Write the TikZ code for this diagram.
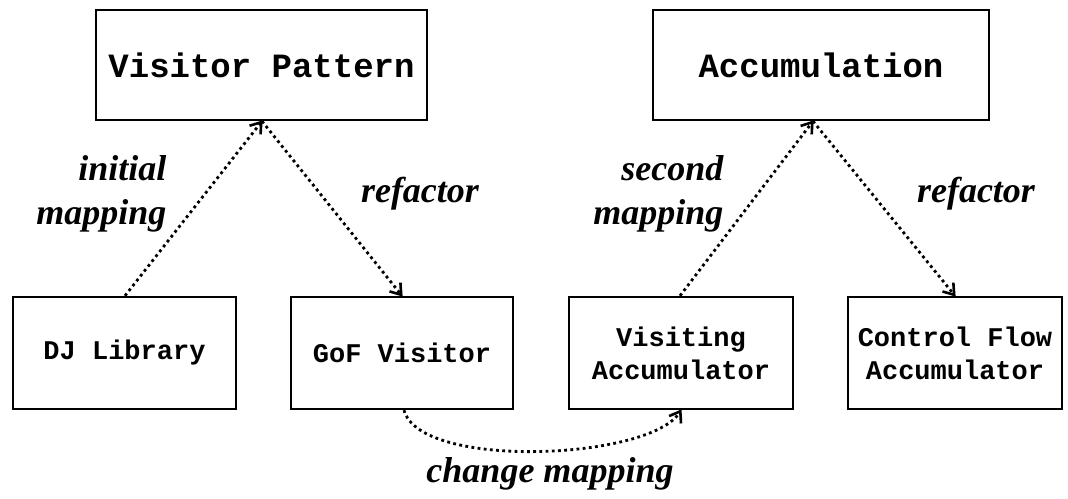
\documentclass[tikz,border=0pt]{standalone}
\usepackage{fontspec}
\setmainfont{Liberation Serif}
\setmonofont{Liberation Mono}
\usetikzlibrary{arrows.meta}
\tikzset{
  concept/.style={draw, line width=2.4pt, inner sep=0pt, align=center,
    font=\fontsize{34}{38}\selectfont\ttfamily\bfseries},
  impl/.style={draw, line width=2.4pt, inner sep=0pt, align=center,
    font=\fontsize{27}{33}\selectfont\ttfamily\bfseries},
  link/.style={line width=2.8pt, dash pattern=on 2.8pt off 3.4pt,
    -{Straight Barb[length=10pt,width=14pt,line width=2.6pt]}, shorten >=-1pt},
  lbl/.style={font=\fontsize{36}{44}\selectfont\bfseries\itshape, align=right}
}
\begin{document}
\begin{tikzpicture}[x=1pt,y=-1pt]
\useasboundingbox (0,0) rectangle (1068,498);

% upper concept boxes
\node[concept, minimum width=331pt, minimum height=110pt] (vp) at (261.5,65) {Visitor Pattern};
\node[concept, minimum width=336pt, minimum height=110pt] (acc) at (821,65) {Accumulation};

% lower implementation boxes
\node[impl, minimum width=223pt, minimum height=112pt] (dj) at (124.5,353) {DJ Library};
\node[impl, minimum width=222pt, minimum height=112pt] (gof) at (402,353) {GoF Visitor};
\node[impl, minimum width=224pt, minimum height=112pt] (va) at (681,353) {Visiting\\Accumulator};
\node[impl, minimum width=214pt, minimum height=112pt] (cfa) at (955,353) {Control Flow\\Accumulator};

% attachment points on the box edges
\coordinate (djT) at (dj.north -| 125,0);
\coordinate (vpB) at (vp.south -| 262,0);
\coordinate (gofT) at (gof.north -| 402,0);
\coordinate (gofB) at (gof.south -| 404,0);
\coordinate (vaT) at (va.north -| 680,0);
\coordinate (vaB) at (va.south -| 681,0);
\coordinate (accB) at (acc.south -| 813,0);
\coordinate (cfaT) at (cfa.north -| 955,0);

% mappings
\draw[link] (djT) -- (vpB);
\draw[link] (vpB) -- (gofT);
\draw[link] (vaT) -- (accB);
\draw[link] (accB) -- (cfaT);
\draw[link] (gofB) .. controls (420,470) and (650,460) .. (vaB);

% labels
\node[lbl, anchor=east] (l1) at (170,194) {initial\\mapping};
\node[lbl] (l2) at (420,194) {refactor};
\node[lbl, anchor=east] (l3) at (727,194) {second\\mapping};
\node[lbl] (l4) at (976,194) {refactor};
\node[lbl] (l5) at (550,474) {change mapping};
\end{tikzpicture}
\end{document}
